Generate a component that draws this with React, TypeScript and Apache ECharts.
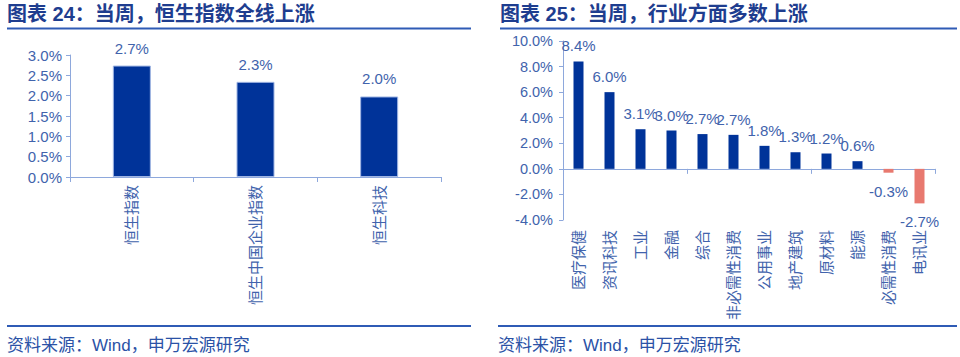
import React, { useEffect, useRef } from "react";
import * as echarts from "echarts";

const hsCategories = ["恒生指数", "恒生中国企业指数", "恒生科技"];
const hsValues = [2.74, 2.34, 1.98];
const hsTicks = [0, 0.5, 1.0, 1.5, 2.0, 2.5, 3.0];

const industryCategories = [
  "医疗保健", "资讯科技", "工业", "金融", "综合", "非必需性消费",
  "公用事业", "地产建筑", "原材料", "能源", "必需性消费", "电讯业",
];
const industryValues = [8.4, 6.0, 3.1, 3.0, 2.72, 2.66, 1.8, 1.3, 1.2, 0.6, -0.3, -2.7];
const industryTicks = [-4, -2, 0, 2, 4, 6, 8, 10];

const titleLeft = "图表 24：当周，恒生指数全线上涨";
const titleRight = "图表 25：当周，行业方面多数上涨";
const sourceText = "资料来源：Wind，申万宏源研究";

const FONT = '"Liberation Sans", "Noto Sans CJK SC", sans-serif';
const BLUE = "#003399";
const RED = "#E8796F";
const AXIS = "#8EA8DC";
const LABEL = "#4163AC";
const TITLE = "#1E3D8F";
const RULE = "#2F5BB5";

export default function App() {
  const ref = useRef<HTMLDivElement>(null);
  useEffect(() => {
    if (!ref.current) return;
    const chart = echarts.init(ref.current, null, { renderer: "svg" });
    const pct = (v: number) => v.toFixed(1) + "%";
    chart.setOption({
      animation: false,
      grid: [
        { left: 70, right: 960 - 441, top: 55, bottom: 357 - 177 },
        { left: 563, right: 960 - 935, top: 41, bottom: 357 - 220 },
      ],
      xAxis: [
        {
          gridIndex: 0,
          type: "category",
          data: hsCategories,
          axisLine: { lineStyle: { color: AXIS, width: 1 } },
          axisTick: { show: true, length: 5, lineStyle: { color: AXIS } },
          axisLabel: {
            rotate: 90,
            margin: 8,
            fontSize: 15,
            color: LABEL,
            fontFamily: FONT,
          },
        },
        {
          gridIndex: 1,
          type: "category",
          position: "bottom",
          data: industryCategories,
          axisLine: { onZero: true, lineStyle: { color: AXIS, width: 1 } },
          axisTick: { show: true, length: 5, lineStyle: { color: AXIS } },
          axisLabel: { show: false },
        },
        {
          gridIndex: 1,
          type: "category",
          position: "bottom",
          data: industryCategories,
          axisLine: { show: false, onZero: false },
          axisTick: { show: false },
          axisLabel: {
            rotate: 90,
            margin: 10,
            fontSize: 15,
            color: LABEL,
            fontFamily: FONT,
          },
        },
      ],
      yAxis: [
        {
          gridIndex: 0,
          type: "value",
          min: hsTicks[0],
          max: hsTicks[hsTicks.length - 1],
          interval: 0.5,
          splitLine: { show: false },
          axisLine: { show: true, lineStyle: { color: AXIS } },
          axisTick: { show: true, length: 4, lineStyle: { color: AXIS } },
          axisLabel: {
            formatter: (v: number) => pct(v),
            fontSize: 15,
            color: LABEL,
            fontFamily: FONT,
            margin: 8,
          },
        },
        {
          gridIndex: 1,
          type: "value",
          min: industryTicks[0],
          max: industryTicks[industryTicks.length - 1],
          interval: 2,
          splitLine: { show: false },
          axisLine: { show: true, lineStyle: { color: AXIS } },
          axisTick: { show: true, length: 4, lineStyle: { color: AXIS } },
          axisLabel: {
            formatter: (v: number) => pct(v),
            fontSize: 14.5,
            color: LABEL,
            fontFamily: FONT,
            margin: 10,
          },
        },
      ],
      series: [
        {
          type: "bar",
          xAxisIndex: 0,
          yAxisIndex: 0,
          barWidth: 38,
          data: hsValues,
          itemStyle: { color: BLUE, borderColor: "#9FB5E3", borderWidth: 1 },
          label: {
            show: true,
            position: "top",
            distance: 10,
            formatter: (p: any) => pct(p.value),
            fontSize: 15,
            color: LABEL,
            fontFamily: FONT,
          },
        },
        {
          type: "bar",
          xAxisIndex: 1,
          yAxisIndex: 1,
          barWidth: 10,
          data: industryValues.map((v) => ({
            value: v,
            itemStyle: { color: v >= 0 ? BLUE : RED },
            label: { position: v >= 0 ? "top" : "bottom", distance: v >= 0 ? 8 : 11 },
          })),
          label: {
            show: true,
            formatter: (p: any) => pct(p.value),
            fontSize: 15,
            color: LABEL,
            fontFamily: FONT,
          },
        },
      ],
      graphic: [
        {
          type: "text",
          left: 7,
          top: 4,
          style: { text: titleLeft, font: 'bold 20px "Liberation Sans", "Noto Sans CJK SC", sans-serif', fill: TITLE },
        },
        {
          type: "text",
          left: 500,
          top: 4,
          style: { text: titleRight, font: 'bold 20px "Liberation Sans", "Noto Sans CJK SC", sans-serif', fill: TITLE },
        },
        { type: "line", shape: { x1: 7, y1: 28.5, x2: 471, y2: 28.5 }, style: { stroke: RULE, lineWidth: 2 } },
        { type: "line", shape: { x1: 500, y1: 28.5, x2: 957, y2: 28.5 }, style: { stroke: RULE, lineWidth: 2 } },
        { type: "line", shape: { x1: 7, y1: 326, x2: 471, y2: 326 }, style: { stroke: RULE, lineWidth: 2 } },
        { type: "line", shape: { x1: 498, y1: 326, x2: 957, y2: 326 }, style: { stroke: RULE, lineWidth: 2 } },
        {
          type: "text",
          left: 7,
          top: 337,
          style: { text: sourceText, font: '17px "Liberation Sans", "Noto Sans CJK SC", sans-serif', fill: "#2B52A6" },
        },
        {
          type: "text",
          left: 498,
          top: 337,
          style: { text: sourceText, font: '17px "Liberation Sans", "Noto Sans CJK SC", sans-serif', fill: "#2B52A6" },
        },
      ],
    });
    return () => chart.dispose();
  }, []);
  return (
    <div
      ref={ref}
      style={{ position: "absolute", left: 0, top: 0, width: 960, height: 357, background: "#fff" }}
    />
  );
}
